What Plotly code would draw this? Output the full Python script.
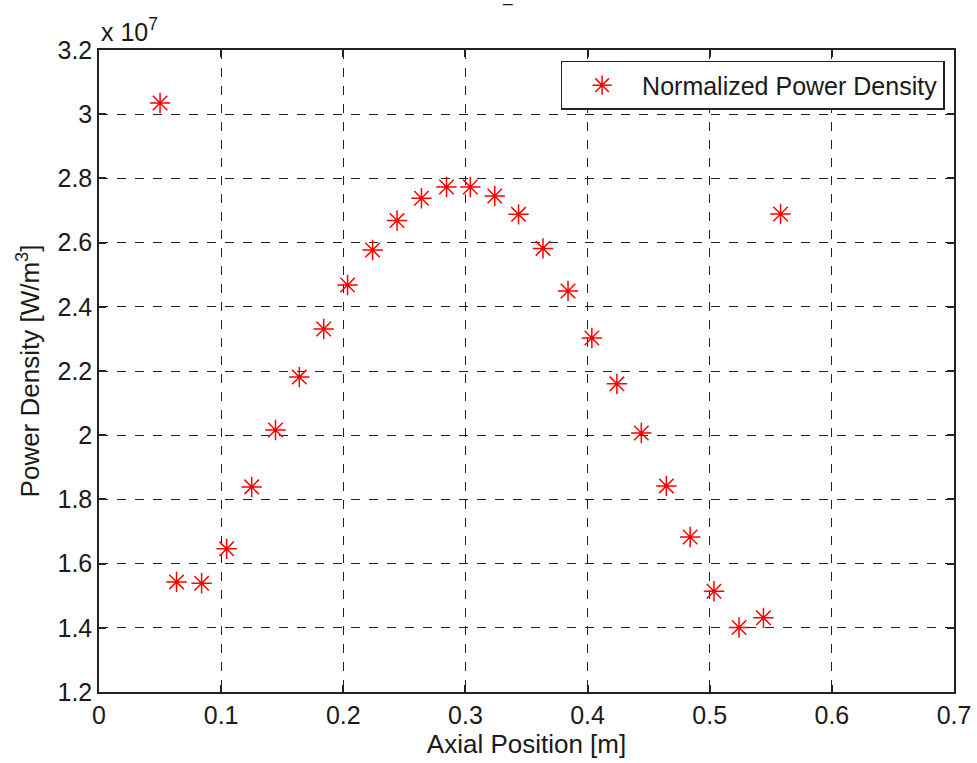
import plotly.graph_objects as go

axial_position = [0.050, 0.0635, 0.084, 0.1045, 0.125, 0.1445, 0.164, 0.184, 0.2035,
                  0.224, 0.244, 0.264, 0.2845, 0.304, 0.324, 0.3435, 0.3635, 0.384,
                  0.4035, 0.424, 0.444, 0.4645, 0.484, 0.5035, 0.524, 0.544, 0.558]
power_density = [3.035e7, 1.543e7, 1.539e7, 1.646e7, 1.839e7, 2.016e7, 2.181e7, 2.331e7, 2.468e7,
                 2.577e7, 2.669e7, 2.738e7, 2.773e7, 2.773e7, 2.745e7, 2.688e7, 2.582e7, 2.449e7,
                 2.303e7, 2.160e7, 2.007e7, 1.842e7, 1.683e7, 1.514e7, 1.401e7, 1.431e7, 2.689e7]

y_ticks = [1.2e7, 1.4e7, 1.6e7, 1.8e7, 2.0e7, 2.2e7, 2.4e7, 2.6e7, 2.8e7, 3.0e7, 3.2e7]
y_ticktext = ["1.2", "1.4", "1.6", "1.8", "2", "2.2", "2.4", "2.6", "2.8", "3", "3.2"]
x_ticks = [0, 0.1, 0.2, 0.3, 0.4, 0.5, 0.6, 0.7]
x_ticktext = ["0", "0.1", "0.2", "0.3", "0.4", "0.5", "0.6", "0.7"]

font_family = "Liberation Sans, Arial, sans-serif"
text_color = "#1a1a1a"
fs = 25

fig = go.Figure()
fig.add_trace(go.Scatter(
    x=axial_position, y=power_density, mode="markers",
    name="Normalized Power Density",
    marker=dict(symbol="asterisk-open", size=17, color="red",
                line=dict(color="red", width=1.5)),
))

axis_common = dict(
    showline=True, linecolor="#222222", linewidth=1.5, mirror="allticks",
    ticks="inside", ticklen=7, tickcolor="#222222", tickwidth=1.5,
    showgrid=True, gridcolor="#222222", griddash="dash", gridwidth=1,
    zeroline=False, tickfont=dict(size=fs, color=text_color, family=font_family),
)

fig.update_xaxes(range=[0, 0.7], tickvals=x_ticks, ticktext=x_ticktext,
                 title=dict(text="Axial Position [m]", font=dict(size=26, family=font_family, color=text_color),
                            standoff=4),
                 **axis_common)
fig.update_yaxes(range=[1.2e7, 3.2e7], tickvals=y_ticks, ticktext=y_ticktext,
                 title=dict(text="Power Density [W/m<sup>3</sup>]", font=dict(size=26, family=font_family, color=text_color),
                            standoff=10),
                 **axis_common)

fig.add_annotation(text="x 10<sup>7</sup>", xref="paper", yref="paper", x=0, y=1,
                   xanchor="left", yanchor="bottom", showarrow=False,
                   font=dict(size=fs, family=font_family, color=text_color), yshift=2)
fig.add_annotation(text="_", xref="paper", yref="paper", x=0.478, y=1.065,
                   xanchor="center", yanchor="bottom", showarrow=False,
                   font=dict(size=17, family=font_family, color=text_color))

fig.update_layout(
    width=977, height=763,
    margin=dict(l=99, r=23, t=50, b=71, autoexpand=False),
    paper_bgcolor="white", plot_bgcolor="white",
    showlegend=True,
    legend=dict(x=0.989, y=0.983, xanchor="right", yanchor="top",
                bordercolor="#222222", borderwidth=1.5, bgcolor="white",
                itemwidth=70,
                font=dict(size=25, family=font_family, color=text_color)),
    font=dict(family=font_family),
)

fig.write_html("out.html")
